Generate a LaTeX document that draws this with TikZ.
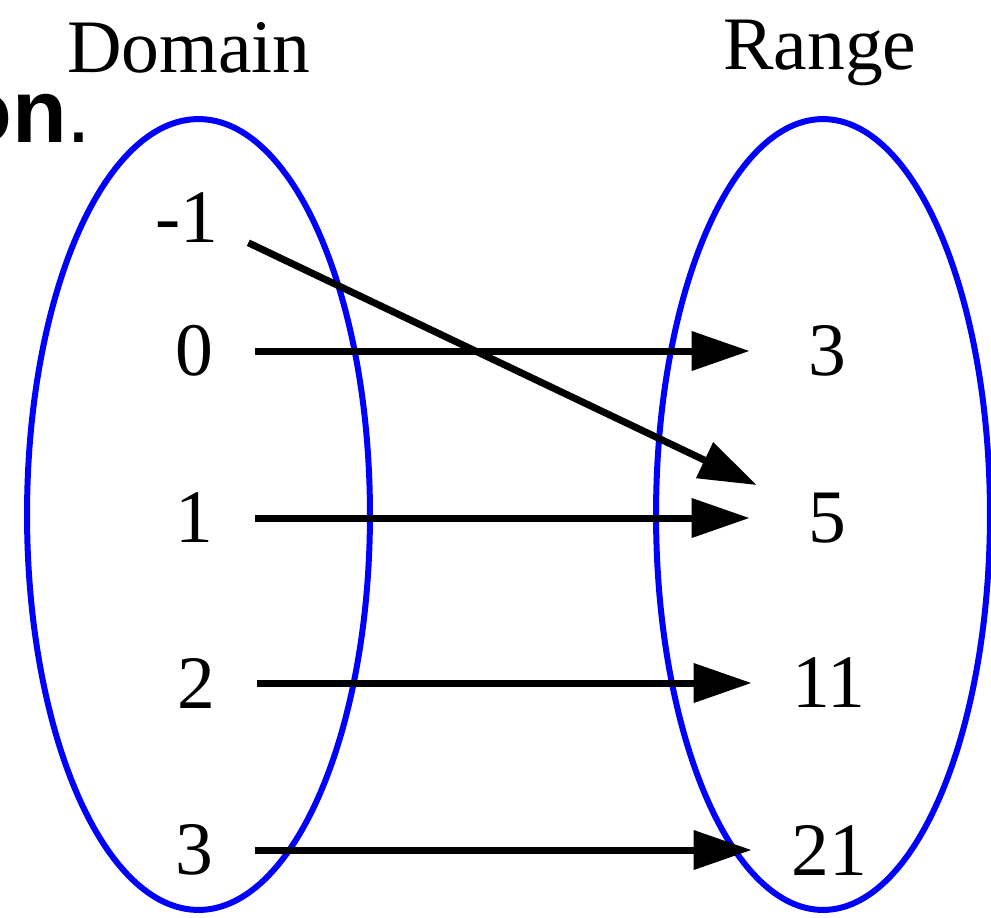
\documentclass[tikz,border=0pt]{standalone}
\usepackage{fontspec}
\setmainfont{Liberation Serif}
\setsansfont{Liberation Sans}
\usetikzlibrary{arrows.meta}

\begin{document}
\begin{tikzpicture}[
  x=0.02cm, y=-0.02cm,
  font=\fontsize{43}{50}\selectfont,
  every node/.style={inner sep=0pt},
  setring/.style={draw=blue,line width=0.12cm},
  head/.style={anchor=base},
  dom/.style={minimum width=2.44cm,minimum height=0.9cm},
  rng/.style={minimum width=3.08cm,minimum height=1.44cm},
  map/.style={-{Triangle[length=1.16cm,width=0.76cm]},line width=0.14cm}
]
\useasboundingbox (0,0) rectangle (991,917);
\clip (0,0) rectangle (991,917);

\draw[setring] (198.5,514.5) ellipse [x radius=3.43cm,y radius=7.91cm];
\draw[setring] (823,514.5) ellipse [x radius=3.34cm,y radius=7.91cm];

\node[head] (domain) at (189,72) {Domain};
\node[head] (range)  at (820,69) {Range};
\node[anchor=base west,font=\sffamily\fontsize{51}{60}\selectfont] (frag) at (-43,142) {\textbf{on}.};

\node[dom] (dm1) at (187,217.5) {-1};
\node[dom] (d0)  at (194,351) {0};
\node[dom] (d1)  at (194,518) {1};
\node[dom] (d2)  at (196,683) {2};
\node[dom] (d3)  at (194,850) {3};

\node[rng] (r3)  at (827,351) {3};
\node[rng] (r5)  at (827,518) {5};
\node[rng] (r11) at (829,683) {11};
\node[rng] (r21) at (829,850) {21};

\draw[map,shorten >=-0.16cm] (dm1.south east) -- (r5.north west);
\draw[map] (d0.east) -- (r3.west);
\draw[map] (d1.east) -- (r5.west);
\draw[map] (d2.east) -- (r11.west);
\draw[map] (d3.east) -- (r21.west);
\end{tikzpicture}
\end{document}
